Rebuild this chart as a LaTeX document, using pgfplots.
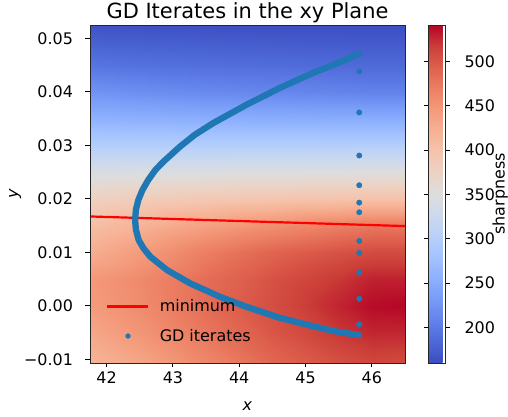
\documentclass[border=0pt]{standalone}
\usepackage{pgfplots}
\pgfplotsset{compat=1.18}
\usepackage{fontspec}
\setmainfont{DejaVu Sans}
\definecolor{tabblue}{RGB}{31,119,180}
\pgfplotsset{colormap={coolwarm}{
rgb255(0cm)=(59,76,192) rgb255(1cm)=(77,104,215) rgb255(2cm)=(98,130,234) rgb255(3cm)=(119,154,247)
rgb255(4cm)=(141,176,254) rgb255(5cm)=(163,194,255) rgb255(6cm)=(184,208,249) rgb255(7cm)=(204,217,238)
rgb255(8cm)=(221,221,221) rgb255(9cm)=(236,211,197) rgb255(10cm)=(245,196,173) rgb255(11cm)=(247,177,148)
rgb255(12cm)=(244,154,123) rgb255(13cm)=(236,127,99) rgb255(14cm)=(222,96,77) rgb255(15cm)=(203,62,56)
rgb255(16cm)=(180,4,38)}}
\newcommand{\tf}{\fontsize{16}{19}\selectfont}
\pgfplotstableread{
x y z
41.75 -0.0107 418
42.5 -0.0107 434
43.5 -0.0107 462
44.5 -0.0107 488
45.5 -0.0107 505
46.0 -0.0107 511
46.5 -0.0107 509
41.75 -0.005 432
42.5 -0.005 450
43.5 -0.005 476
44.5 -0.005 500
45.5 -0.005 520
46.0 -0.005 527
46.5 -0.005 527
41.75 0.0 444
42.5 0.0 458
43.5 0.0 484
44.5 0.0 506
45.5 0.0 528
46.0 0.0 538
46.5 0.0 540
41.75 0.005 447
42.5 0.005 460
43.5 0.005 483
44.5 0.005 503
45.5 0.005 520
46.0 0.005 529
46.5 0.005 529
41.75 0.01 425
42.5 0.01 444
43.5 0.01 470
44.5 0.01 490
45.5 0.01 503
46.0 0.01 508
46.5 0.01 508
41.75 0.015 405
42.5 0.015 420
43.5 0.015 440
44.5 0.015 456
45.5 0.015 470
46.0 0.015 476
46.5 0.015 476
41.75 0.02 378
42.5 0.02 385
43.5 0.02 392
44.5 0.02 397
45.5 0.02 400
46.0 0.02 402
46.5 0.02 402
41.75 0.025 343
42.5 0.025 345
43.5 0.025 347
44.5 0.025 348
45.5 0.025 349
46.0 0.025 350
46.5 0.025 350
41.75 0.03 298
42.5 0.03 298
43.5 0.03 298
44.5 0.03 298
45.5 0.03 298
46.0 0.03 298
46.5 0.03 298
41.75 0.035 258
42.5 0.035 256
43.5 0.035 254
44.5 0.035 253
45.5 0.035 252
46.0 0.035 252
46.5 0.035 252
41.75 0.04 225
42.5 0.04 220
43.5 0.04 215
44.5 0.04 212
45.5 0.04 210
46.0 0.04 208
46.5 0.04 208
41.75 0.045 195
42.5 0.045 192
43.5 0.045 190
44.5 0.045 188
45.5 0.045 186
46.0 0.045 185
46.5 0.045 185
41.75 0.0525 165
42.5 0.0525 164
43.5 0.0525 163
44.5 0.0525 162
45.5 0.0525 162
46.0 0.0525 162
46.5 0.0525 162
}\fieldtable
\begin{document}
\begin{tikzpicture}
\path[use as bounding box] (0,0) rectangle (508bp,417bp);
\begin{axis}[
  at={(90bp,54bp)}, anchor=south west,
  width=315bp, height=338bp, scale only axis,
  xmin=41.75, xmax=46.5, ymin=-0.0107, ymax=0.0525,
  axis on top,
  xtick={42,43,44,45,46},
  ytick={-0.01,0,0.01,0.02,0.03,0.04,0.05},
  yticklabels={−0.01,0.00,0.01,0.02,0.03,0.04,0.05},
  scaled y ticks=false,
  tick align=outside, tick pos=left,
  major tick length=4.5bp,
  every tick/.style={black, line width=0.8bp},
  axis line style={line width=0.8bp, black!85},
  ticklabel style={font=\tf},
  yticklabel style={xshift=-9bp},
  xticklabel style={yshift=-1bp},
  /pgf/number format/assume math mode=true,
  title={\fontsize{21}{25}\selectfont GD Iterates in the xy Plane},
  title style={at={(axis description cs:0.5,1)}, anchor=base, yshift=0.7bp},
  xlabel={\textit{x}},
  xlabel style={font=\tf, at={(axis description cs:0.5,0)}, anchor=base, yshift=-47bp},
  ylabel={\textit{y}},
  ylabel style={font=\tf, at={(axis description cs:0,0.5)}, anchor=base, yshift=72bp},
  colormap name=coolwarm,
  point meta min=160, point meta max=541,
  colorbar,
  colorbar style={
    at={(parent axis.north east)}, anchor=north west, xshift=15bp,
    width=17bp,
    ytick={200,250,300,350,400,450,500},
    yticklabel style={font=\tf, xshift=11bp},
    major tick length=4.5bp,
    tick align=outside,
    every tick/.style={black, line width=0.8bp},
    axis line style={line width=0.8bp, black!85},
    ylabel={sharpness},
    ylabel style={font=\tf, at={(axis description cs:1,0.5)}, anchor=base, yshift=-59bp},
    /pgf/number format/assume math mode=true,
  },
  legend style={draw=none, fill=none, inner sep=0pt, at={(axis description cs:0.0508,0.1235)}, anchor=west, font=\tf, row sep=12bp},
  legend cell align=left,
]
\addplot[surf, shader=interp, mesh/cols=7, point meta=\thisrow{z}, forget plot] table[x=x,y=y] {\fieldtable};
\addplot[red, line width=2.2bp, legend image code/.code={\draw[red, line width=2.2bp] (0bp,0bp)--(41bp,0bp); \path[draw=none,fill=none] (0bp,-1bp) rectangle (50.5bp,1bp);}] coordinates {(41.75,0.0167) (46.5,0.0149)};
\addlegendentry{minimum}
\addplot[tabblue, line width=6.3bp, line cap=round, line join=round, forget plot] coordinates {
(45.808,0.04714) (45.43,0.04508) (45.108,0.04352) (44.608,0.04071) (44.109,0.03759) (43.608,0.03416)
(43.33,0.03197) (43.109,0.02978) (42.859,0.02697) (42.737,0.02541) (42.629,0.02354) (42.542,0.02167)
(42.479,0.01979) (42.442,0.01792) (42.430,0.01605) (42.443,0.01418) (42.484,0.0123) (42.553,0.01081)
(42.659,0.00918) (42.910,0.00669) (43.259,0.00420) (43.709,0.00169) (44.109,-0.00019) (44.608,-0.00225)
(45.108,-0.00380) (45.43,-0.00474) (45.808,-0.00549)};
\addplot[only marks, mark=*, mark size=2.7bp, tabblue, mark options={draw=none, fill=tabblue},
  legend image code/.code={\fill[tabblue, draw=none] (20.7bp,0bp) circle (2.7bp); \path[draw=none,fill=none] (0bp,-1bp) rectangle (50.5bp,1bp);}] coordinates {
(45.81,0.04713) (45.81,0.04382) (45.81,0.03615) (45.81,0.02809) (45.81,0.02254) (45.81,0.01929)
(45.81,0.01748) (45.81,0.01212) (45.81,0.00987) (45.81,0.00625) (45.81,0.00132) (45.81,-0.00349) (45.81,-0.00555)};
\addlegendentry{GD iterates}
\end{axis}
\end{tikzpicture}
\end{document}
